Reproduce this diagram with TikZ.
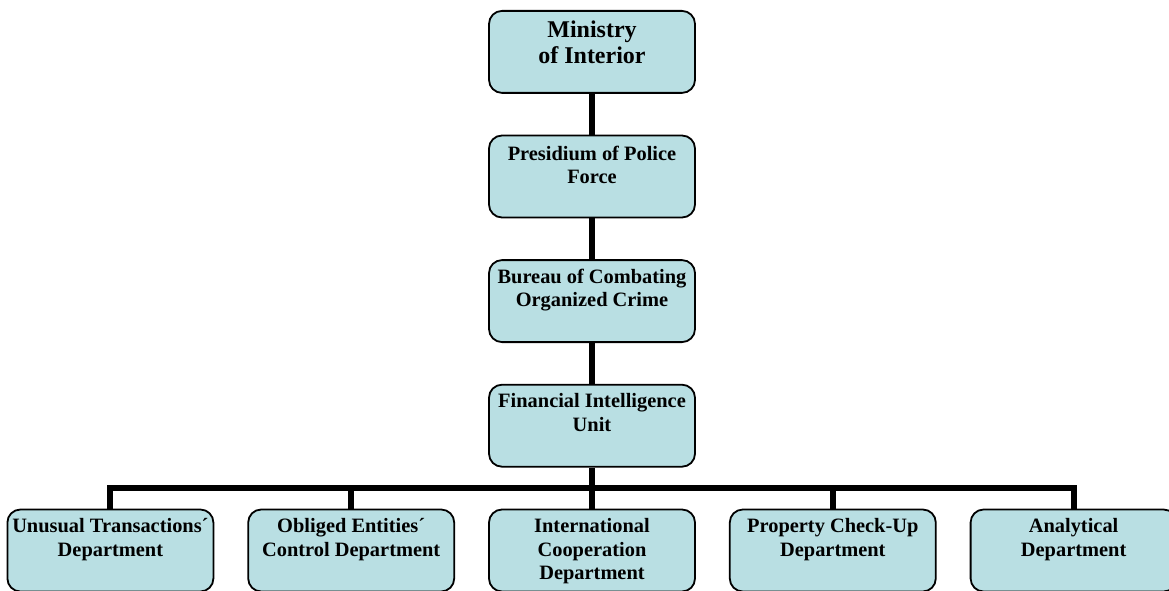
\documentclass[tikz,border=0pt]{standalone}
\usepackage{fontspec}
\setmainfont{Liberation Serif}
\usetikzlibrary{positioning}
\definecolor{r185g223b227}{RGB}{185,223,227}
\tikzset{
  unit/.style={draw, line width=1.8pt, rounded corners=13pt, fill=r185g223b227,
    inner sep=0pt, minimum width=206pt, minimum height=82pt,
    font=\bfseries\fontsize{20.4}{23.5}\selectfont},
  link/.style={line width=6pt},
}
% text hangs from the top of each box
\newcommand{\unittext}[2][23pt]{\parbox[t][82pt][t]{204pt}{\centering\rule{0pt}{#1}#2}}
\begin{document}
\begin{tikzpicture}[x=1pt,y=1pt,node distance=40.8pt and 33pt]
  \useasboundingbox (0,0) rectangle (1169,-591);
  \clip (0,0) rectangle (1169,-591);

  % Drawing the chain of units
  \node [unit, anchor=north, font=\bfseries\fontsize{24}{26}\selectfont] (moi) at (592,-10)
    {\unittext[27pt]{Ministry\\of Interior}};%
  \node [unit, below=of moi] (ppf) {\unittext[25pt]{Presidium of Police\\Force}};%
  \node [unit, below=of ppf] (bcoc) {\unittext{Bureau of Combating\\Organized Crime}};%
  \node [unit, below=of bcoc] (fiu) {\unittext{Financial Intelligence\\Unit}};%

  % Drawing the departments
  \node [unit, below=41pt of fiu] (icd) {\unittext{International\\Cooperation\\Department}};%
  \node [unit, left=of icd] (oecd) {\unittext{Obliged Entities´\\Control Department}};%
  \node [unit, left=of oecd] (utd) {\unittext{Unusual Transactions´\\Department}};%
  \node [unit, right=of icd] (pcud) {\unittext{Property Check-Up\\Department}};%
  \node [unit, right=of pcud] (ad) {\unittext{Analytical\\Department}};%

  % Drawing links
  \draw [link] (moi) -- (ppf);%
  \draw [link] (ppf) -- (bcoc);%
  \draw [link] (bcoc) -- (fiu);%
  \draw [link] (fiu) -- (icd);%
  \draw [link] (utd.north) -- ++(0,21) -| (ad.north);%
  \foreach \dep in {oecd,pcud}
    \draw [link] (\dep.north) -- ++(0,21);%
\end{tikzpicture}
\end{document}
